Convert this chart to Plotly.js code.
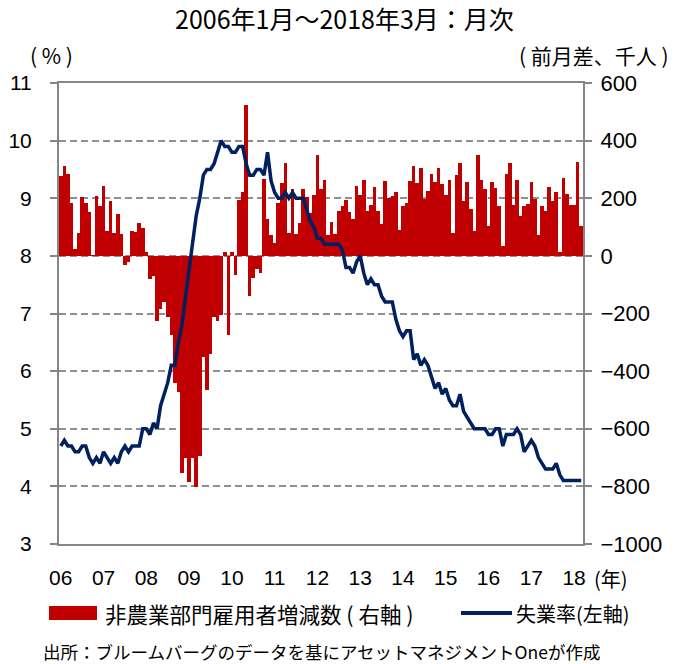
<!DOCTYPE html>
<html>
<head>
<meta charset="utf-8">
<script src="https://cdn.plot.ly/plotly-3.0.1.min.js"></script>
<style>
  html, body { margin: 0; padding: 0; background: #ffffff; }
  #chart { width: 689px; height: 664px; }
</style>
</head>
<body>
<div id="chart"></div>
<script>
// ---- Data ----
const yearLabels = ['06','07','08','09','10','11','12','13','14','15','16','17','18'];

// Nonfarm payroll change (thousands, m/m), Jan 2006 – Mar 2018
const payrolls = [
  277, 313, 283, 185, 24, 79, 206, 185, 154, 2, 209, 174,          // 2006
  241, 88, 191, 80, 145, 75, -31, -20, 88, 84, 113, 98,            // 2007
  13, -81, -70, -226, -184, -160, -211, -274, -441, -472, -753, -701, // 2008
  -785, -701, -801, -695, -351, -465, -340, -213, -225, -205, 12, -275, // 2009
  14, -65, 195, 220, 524, -139, -76, -44, -61, 266, 127, 72,      // 2010
  44, 183, 252, 324, 79, 231, 75, 113, 233, 205, 150, 210,         // 2011
  351, 233, 264, 73, 117, 76, 155, 174, 193, 154, 128, 244,        // 2012
  212, 264, 155, 178, 240, 157, 110, 259, 201, 208, 220, 91,       // 2013
  172, 183, 260, 311, 253, 305, 196, 224, 283, 255, 305, 251,      // 2014
  211, 265, 78, 282, 324, 190, 255, 163, 88, 351, 263, 233,        // 2015
  102, 256, 234, 172, 34, 283, 324, 175, 263, 140, 172, 180,       // 2016
  258, 199, 72, 174, 155, 238, 191, 221, 14, 271, 216, 175,        // 2017
  175, 325, 102                                                    // 2018
];

// Unemployment rate (%), Jan 2006 – Mar 2018
const unemployment = [
  4.7, 4.8, 4.7, 4.7, 4.6, 4.6, 4.7, 4.7, 4.5, 4.4, 4.5, 4.4,     // 2006
  4.6, 4.5, 4.4, 4.5, 4.4, 4.6, 4.7, 4.6, 4.7, 4.7, 4.7, 5.0,     // 2007
  5.0, 4.9, 5.1, 5.0, 5.4, 5.6, 5.8, 6.1, 6.1, 6.5, 6.8, 7.3,     // 2008
  7.8, 8.3, 8.7, 9.0, 9.4, 9.5, 9.5, 9.6, 9.8, 10.0, 9.9, 9.9,    // 2009
  9.8, 9.8, 9.9, 9.9, 9.6, 9.4, 9.4, 9.5, 9.5, 9.4, 9.8, 9.3,     // 2010
  9.1, 9.0, 9.0, 9.1, 9.0, 9.1, 9.0, 9.0, 9.0, 8.8, 8.6, 8.5,     // 2011
  8.3, 8.3, 8.2, 8.2, 8.2, 8.2, 8.2, 8.1, 7.8, 7.8, 7.7, 7.9,     // 2012
  8.0, 7.7, 7.5, 7.6, 7.5, 7.5, 7.3, 7.2, 7.2, 7.2, 6.9, 6.7,     // 2013
  6.6, 6.7, 6.7, 6.2, 6.3, 6.1, 6.2, 6.1, 5.9, 5.7, 5.8, 5.6,     // 2014
  5.7, 5.5, 5.4, 5.4, 5.6, 5.3, 5.2, 5.1, 5.0, 5.0, 5.0, 5.0,     // 2015
  4.9, 4.9, 5.0, 5.0, 4.7, 4.9, 4.9, 4.9, 5.0, 4.9, 4.6, 4.7,     // 2016
  4.8, 4.7, 4.5, 4.4, 4.3, 4.3, 4.3, 4.4, 4.2, 4.1, 4.1, 4.1,     // 2017
  4.1, 4.1, 4.1                                                   // 2018
];

// Month categories
const months = [];
for (let y = 2006; y <= 2018; y++) {
  for (let m = 1; m <= 12; m++) {
    if (months.length >= payrolls.length) break;
    months.push(y + '/' + (m < 10 ? '0' + m : m));
  }
}
const yearTickVals = yearLabels.map(function (_, k) { return (2006 + k) + '/01'; });

const titleText = '2006年1月～2018年3月：月次';
const leftUnit = '( % )';
const rightUnit = '( 前月差、千人 )';
const yearUnit = '(年)';
const barName = '非農業部門雇用者増減数 ( 右軸 )';
const lineName = '失業率(左軸)';
const sourceText = '出所：ブルームバーグのデータを基にアセットマネジメントOneが作成';

// ---- Styles ----
const RED = '#C00000';
const NAVY = '#002060';
const AXIS = '#868686';
const GRID = '#8f8f8f';
const FONT = 'Liberation Sans, Arial, "Noto Sans CJK JP", sans-serif';
const CJK = '"Noto Sans CJK JP", sans-serif';

const L = 59, R = 583, T = 83, B = 544;
const W = 689, H = 664;
const px2x = function (px) { return (px - L) / (R - L); };
const px2y = function (py) { return (B - py) / (B - T); };

const traces = [
  {
    type: 'bar',
    name: barName,
    x: months,
    y: payrolls,
    xaxis: 'x',
    yaxis: 'y',
    marker: { color: RED, line: { width: 0 } },
    showlegend: false,
    hoverinfo: 'x+y'
  },
  {
    type: 'scatter',
    mode: 'lines',
    name: lineName,
    x: months,
    y: unemployment,
    xaxis: 'x',
    yaxis: 'y2',
    line: { color: NAVY, width: 3.5, shape: 'linear' },
    showlegend: false,
    hoverinfo: 'x+y'
  }
];

const layout = {
  width: W,
  height: H,
  paper_bgcolor: '#ffffff',
  plot_bgcolor: '#ffffff',
  margin: { l: L, r: W - R, t: T, b: H - B, pad: 0 },
  font: { family: FONT, size: 21, color: '#000000' },
  bargap: 0,
  showlegend: false,
  title: {
    text: titleText,
    font: { family: CJK, size: 25, color: '#000000' },
    x: 0.5, xref: 'container', xanchor: 'center',
    y: 1 - 20 / H, yref: 'container', yanchor: 'middle'
  },
  xaxis: {
    type: 'category',
    range: [-0.5, payrolls.length - 0.5],
    tickmode: 'array',
    tickvals: yearTickVals,
    ticktext: yearLabels,
    tickangle: 0,
    ticks: '',
    showgrid: false,
    zeroline: false,
    showline: true,
    mirror: true,
    linecolor: AXIS,
    linewidth: 2,
    tickfont: { family: FONT, size: 21, color: '#000000' },
    ticklabelstandoff: 14
  },
  // bars: right axis (primary, drawn first / below)
  yaxis: {
    side: 'right',
    range: [-1000, 600],
    tickmode: 'linear',
    tick0: -1000,
    dtick: 200,
    showgrid: true,
    gridcolor: GRID,
    gridwidth: 2,
    griddash: '7px,4px',
    zeroline: false,
    showline: true,
    linecolor: AXIS,
    linewidth: 2,
    ticks: 'outside',
    ticklen: 7,
    tickwidth: 2,
    tickcolor: AXIS,
    tickfont: { family: FONT, size: 22, color: '#000000' },
    ticklabelstandoff: 4
  },
  // line: left axis (overlay, drawn on top)
  yaxis2: {
    side: 'left',
    overlaying: 'y',
    range: [3, 11],
    tickmode: 'linear',
    tick0: 3,
    dtick: 1,
    showgrid: false,
    zeroline: false,
    showline: true,
    linecolor: AXIS,
    linewidth: 2,
    ticks: 'outside',
    ticklen: 7,
    tickwidth: 2,
    tickcolor: AXIS,
    tickfont: { family: FONT, size: 21, color: '#000000' },
    ticklabelstandoff: 14
  },
  shapes: [
    { type: 'rect', xref: 'paper', yref: 'paper',
      x0: px2x(49), x1: px2x(97), y0: px2y(620), y1: px2y(606),
      fillcolor: RED, line: { width: 0 } },
    { type: 'line', xref: 'paper', yref: 'paper',
      x0: px2x(461), x1: px2x(512), y0: px2y(613), y1: px2y(613),
      line: { color: NAVY, width: 4 } }
  ],
  annotations: [
    { text: leftUnit, xref: 'paper', yref: 'paper', x: px2x(51), y: px2y(55),
      xanchor: 'center', yanchor: 'middle', showarrow: false,
      font: { family: CJK, size: 21, color: '#000000' } },
    { text: rightUnit, xref: 'paper', yref: 'paper', x: px2x(517), y: px2y(55),
      xanchor: 'left', yanchor: 'middle', showarrow: false,
      font: { family: CJK, size: 21, color: '#000000' } },
    { text: yearUnit, xref: 'paper', yref: 'paper', x: px2x(592), y: px2y(578),
      xanchor: 'left', yanchor: 'middle', showarrow: false,
      font: { family: CJK, size: 20, color: '#000000' } },
    { text: barName, xref: 'paper', yref: 'paper', x: px2x(103), y: px2y(613),
      xanchor: 'left', yanchor: 'middle', showarrow: false,
      font: { family: CJK, size: 21.5, color: '#000000' } },
    { text: lineName, xref: 'paper', yref: 'paper', x: px2x(514), y: px2y(613),
      xanchor: 'left', yanchor: 'middle', showarrow: false,
      font: { family: CJK, size: 20, color: '#000000' } },
    { text: sourceText, xref: 'paper', yref: 'paper', x: px2x(41), y: px2y(651),
      xanchor: 'left', yanchor: 'middle', showarrow: false,
      font: { family: CJK, size: 17.5, color: '#000000' } }
  ]
};

Plotly.newPlot('chart', traces, layout, { displayModeBar: false, staticPlot: true });
</script>
</body>
</html>
